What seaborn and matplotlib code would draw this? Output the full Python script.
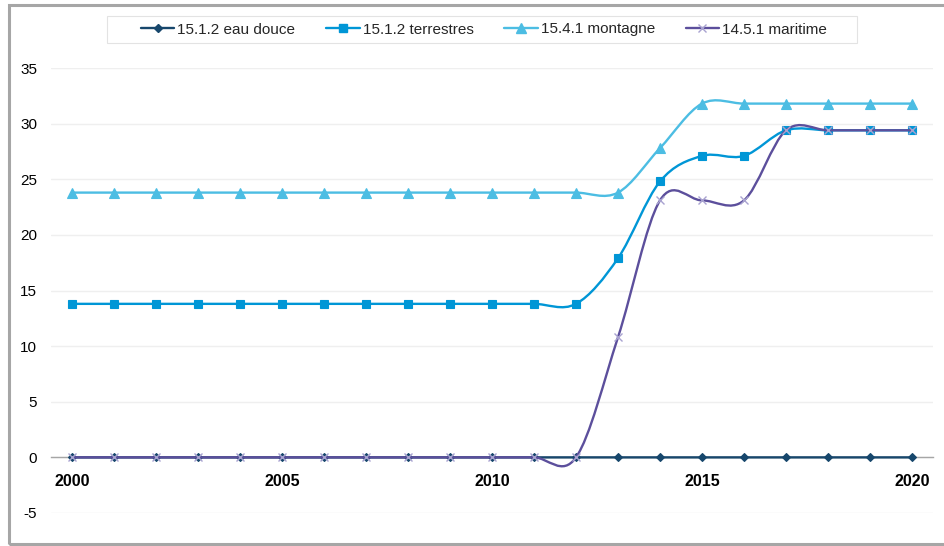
import numpy as np
import pandas as pd
import matplotlib
matplotlib.use("Agg")
import matplotlib.pyplot as plt
import seaborn as sns
from matplotlib.path import Path
from matplotlib.patches import PathPatch, Rectangle
from matplotlib.lines import Line2D

# ---- data ----
years = [2000, 2001, 2002, 2003, 2004, 2005, 2006, 2007, 2008, 2009, 2010,
         2011, 2012, 2013, 2014, 2015, 2016, 2017, 2018, 2019, 2020]
eau_douce = [0, 0, 0, 0, 0, 0, 0, 0, 0, 0, 0,
             0, 0, 0, 0, 0, 0, 0, 0, 0, 0]
terrestres = [13.8, 13.8, 13.8, 13.8, 13.8, 13.8, 13.8, 13.8, 13.8, 13.8, 13.8,
              13.8, 13.8, 17.9, 24.8, 27.1, 27.1, 29.4, 29.4, 29.4, 29.4]
montagne = [23.8, 23.8, 23.8, 23.8, 23.8, 23.8, 23.8, 23.8, 23.8, 23.8, 23.8,
            23.8, 23.8, 23.8, 27.8, 31.8, 31.8, 31.8, 31.8, 31.8, 31.8]
maritime = [0, 0, 0, 0, 0, 0, 0, 0, 0, 0, 0,
            0, 0, 10.8, 23.1, 23.1, 23.1, 29.4, 29.4, 29.4, 29.4]
series_names = ["15.1.2 eau douce", "15.1.2 terrestres", "15.4.1 montagne", "14.5.1 maritime"]
xtick_years = [2000, 2005, 2010, 2015, 2020]
yticks = [-5, 0, 5, 10, 15, 20, 25, 30, 35]

# ---- styles ----
styles = [
    dict(color="#17476C", mcolor="#17476C", marker="D", ms=4.5),
    dict(color="#0096D6", mcolor="#0096D6", marker="s", ms=6),
    dict(color="#4CBDE3", mcolor="#4CBDE3", marker="^", ms=7),
    dict(color="#5C4F9C", mcolor="#A9A3D0", marker="x", ms=6),
]

sns.set_theme(style="white")
plt.rcParams["font.family"] = ["Liberation Sans", "DejaVu Sans"]

fig = plt.figure(figsize=(9.45, 5.46), dpi=100)
ax = fig.add_axes([51 / 945, 1 - 513 / 546, (933 - 51) / 945, (513 - 68) / 546])


def smooth_path(x, y):
    pts = np.column_stack([x, y]).astype(float)
    n = len(pts)
    verts = [pts[0]]
    codes = [Path.MOVETO]
    for i in range(n - 1):
        p0 = pts[i - 1] if i > 0 else pts[i]
        p1 = pts[i]
        p2 = pts[i + 1]
        p3 = pts[i + 2] if i + 2 < n else pts[i + 1]
        c1 = p1 + (p2 - p0) / 6.0
        c2 = p2 - (p3 - p1) / 6.0
        verts += [c1, c2, p2]
        codes += [Path.CURVE4] * 3
    return Path(verts, codes)


all_series = [eau_douce, terrestres, montagne, maritime]
z = 3
for name, vals, st in zip(series_names, all_series, styles):
    patch = PathPatch(smooth_path(years, vals), fill=False, edgecolor=st["color"],
                      lw=1.7, zorder=z, capstyle="round", joinstyle="round")
    ax.add_patch(patch)
    df = pd.DataFrame({"year": years, "value": vals})
    kw = dict(marker=st["marker"], markersize=st["ms"], color=st["mcolor"], linestyle="",
              zorder=z + 0.5)
    if st["marker"] == "x":
        kw.update(markeredgewidth=1.0, markeredgecolor=st["mcolor"])
    else:
        kw.update(markeredgecolor=st["mcolor"], markeredgewidth=0.8)
    sns.lineplot(data=df, x="year", y="value", ax=ax, legend=False, **kw)
    z += 1

ax.set_xlim(1999.5, 2020.5)
ax.set_ylim(-5, 35)
ax.set_yticks(yticks)
ax.set_yticklabels([str(v) for v in yticks])
ax.set_xticks(xtick_years)
ax.set_xticklabels([str(v) for v in xtick_years])
ax.set_xlabel("")
ax.set_ylabel("")

for s in ["top", "right", "left"]:
    ax.spines[s].set_visible(False)
ax.spines["bottom"].set_position(("data", 0))
ax.spines["bottom"].set_color("#A6A6A6")
ax.spines["bottom"].set_linewidth(1.0)
ax.spines["bottom"].set_zorder(2)

ax.grid(axis="y", color="#EFEFEF", linewidth=1.0)
ax.grid(axis="x", visible=False)
ax.set_axisbelow(True)
ax.tick_params(axis="y", length=0, pad=10, labelsize=11, labelcolor="#000000")
ax.tick_params(axis="x", length=0, pad=12, labelsize=11.5, labelcolor="#000000")
for lab in ax.get_xticklabels():
    lab.set_fontweight("bold")

handles = [Line2D([], [], color=st["color"], marker=st["marker"], markersize=st["ms"],
                  markerfacecolor=st["mcolor"], markeredgecolor=st["mcolor"], lw=1.7)
           for st in styles]
leg = fig.legend(handles, series_names, loc="center", bbox_to_anchor=(484 / 945, 1 - 29.5 / 546),
                 ncol=4, fontsize=11, frameon=False, handlelength=2.2,
                 handletextpad=0.2, columnspacing=2.0)

# legend box
fig.patches.append(Rectangle((107 / 945, 1 - 43 / 546), (857 - 107) / 945, 27 / 546,
                             transform=fig.transFigure, fill=False, edgecolor="#E3E3E3",
                             lw=0.8, zorder=0))

# outer chart frame
fig.patches.append(Rectangle((9 / 945, 2 / 546), 1.5, 1 - 7 / 546, transform=fig.transFigure,
                             fill=False, edgecolor="#A6A6A6", lw=2.2, clip_on=False))

fig.savefig("out.png", dpi=100)
